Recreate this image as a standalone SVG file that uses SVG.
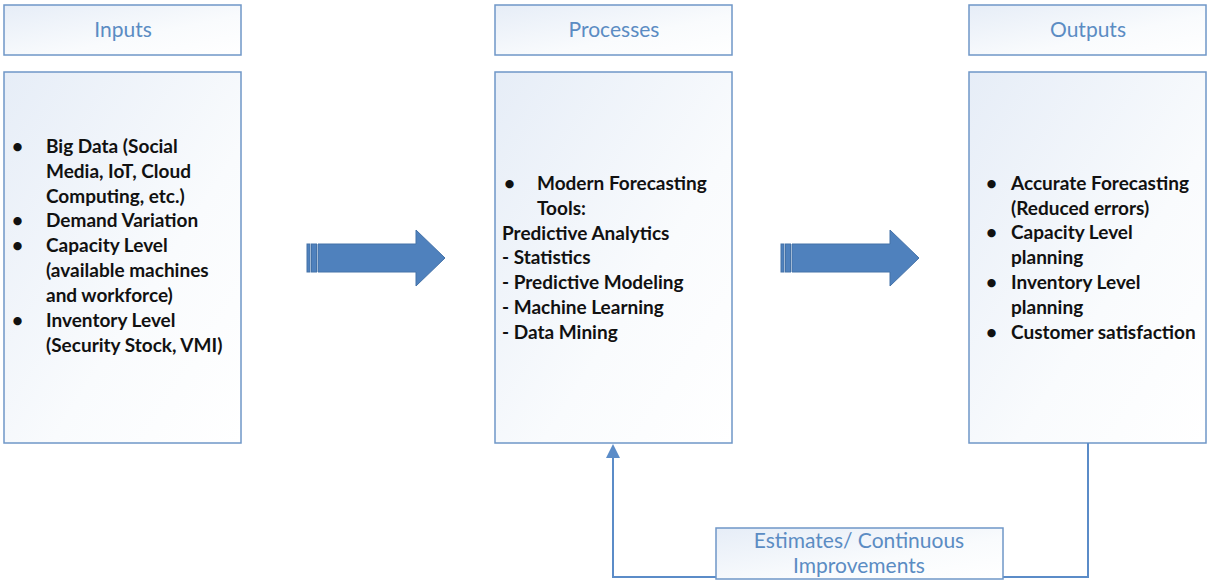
<svg xmlns="http://www.w3.org/2000/svg" width="1208" height="581" viewBox="0 0 1208 581">
<defs>
<linearGradient id="boxg" x1="0" y1="0" x2="1" y2="1">
<stop offset="0" stop-color="#e6edf7"/>
<stop offset="0.6" stop-color="#f9fbfd"/>
<stop offset="1" stop-color="#ffffff"/>
</linearGradient>
<marker id="ah" markerWidth="12" markerHeight="14" refX="6" refY="1" orient="auto-start-reverse" markerUnits="userSpaceOnUse" viewBox="0 0 12 14">
<path d="M0,14 L6,0 L12,14 Z" fill="#5b8cc8"/>
</marker>
</defs>
<style>
.box{fill:url(#boxg);stroke:#6f97c7;stroke-width:1.5}
.hdr{font-family:Lato,"Open Sans",sans-serif;font-size:21px;fill:#5b8cc3;text-anchor:middle}
.body{font-family:Lato,"Open Sans",sans-serif;font-size:19px;font-weight:bold;fill:#111}
.arrow{fill:#4f81bd;stroke:#4472a8;stroke-width:1}
.conn{fill:none;stroke:#5b8cc8;stroke-width:2}
</style>
<rect width="1208" height="581" fill="#ffffff"/>
<g id="inputs-header">
<rect class="box" x="4" y="5" width="237" height="50"/>
<text class="hdr" x="123" y="37">Inputs</text>
</g>
<g id="processes-header">
<rect class="box" x="495" y="5" width="237" height="50"/>
<text class="hdr" x="614" y="37">Processes</text>
</g>
<g id="outputs-header">
<rect class="box" x="969" y="5" width="237" height="50"/>
<text class="hdr" x="1088" y="37">Outputs</text>
</g>
<g id="inputs">
<rect class="box" x="4" y="72" width="237" height="371"/>
<g class="body">
<text x="12" y="153">•</text><text x="46" y="153">Big Data (Social</text>
<text x="46" y="178">Media, IoT, Cloud</text>
<text x="46" y="203">Computing, etc.)</text>
<text x="12" y="227">•</text><text x="46" y="227">Demand Variation</text>
<text x="12" y="252">•</text><text x="46" y="252">Capacity Level</text>
<text x="46" y="277">(available machines</text>
<text x="46" y="302">and workforce)</text>
<text x="12" y="327">•</text><text x="46" y="327">Inventory Level</text>
<text x="46" y="352">(Security Stock, VMI)</text>
</g>
</g>
<g id="processes">
<rect class="box" x="495" y="72" width="237" height="371"/>
<g class="body">
<text x="504" y="190">•</text><text x="537" y="190">Modern Forecasting</text>
<text x="537" y="215">Tools:</text>
<text x="502" y="240">Predictive Analytics</text>
<text x="502" y="264">- Statistics</text>
<text x="502" y="289">- Predictive Modeling</text>
<text x="502" y="314">- Machine Learning</text>
<text x="502" y="339">- Data Mining</text>
</g>
</g>
<g id="outputs">
<rect class="box" x="969" y="72" width="237" height="371"/>
<g class="body">
<text x="986" y="190">•</text><text x="1011" y="190">Accurate Forecasting</text>
<text x="1011" y="215">(Reduced errors)</text>
<text x="986" y="239">•</text><text x="1011" y="239">Capacity Level</text>
<text x="1011" y="264">planning</text>
<text x="986" y="289">•</text><text x="1011" y="289">Inventory Level</text>
<text x="1011" y="314">planning</text>
<text x="986" y="339">•</text><text x="1011" y="339">Customer satisfaction</text>
</g>
</g>
<g id="connectors">
<g id="arrow1">
<rect class="arrow" x="307" y="244" width="3" height="28"/>
<rect class="arrow" x="311.5" y="244" width="5" height="28"/>
<path class="arrow" d="M318,244 L416,244 L416,230 L445,258 L416,286 L416,272 L318,272 Z"/>
</g>
<g id="arrow2">
<rect class="arrow" x="781" y="244" width="3" height="28"/>
<rect class="arrow" x="785.5" y="244" width="5" height="28"/>
<path class="arrow" d="M792,244 L890,244 L890,230 L919,258 L890,286 L890,272 L792,272 Z"/>
</g>
<path class="conn" d="M1088,443 L1088,577 L613,577 L613,455"/>
<path d="M606,458 L613,444 L620,458 Z" fill="#5b8cc8"/>
</g>
<g id="feedback-label">
<rect class="box" x="716" y="528" width="287" height="51"/>
<text class="hdr" x="859" y="548">Estimates/ Continuous</text>
<text class="hdr" x="859" y="573">Improvements</text>
</g>
</svg>
